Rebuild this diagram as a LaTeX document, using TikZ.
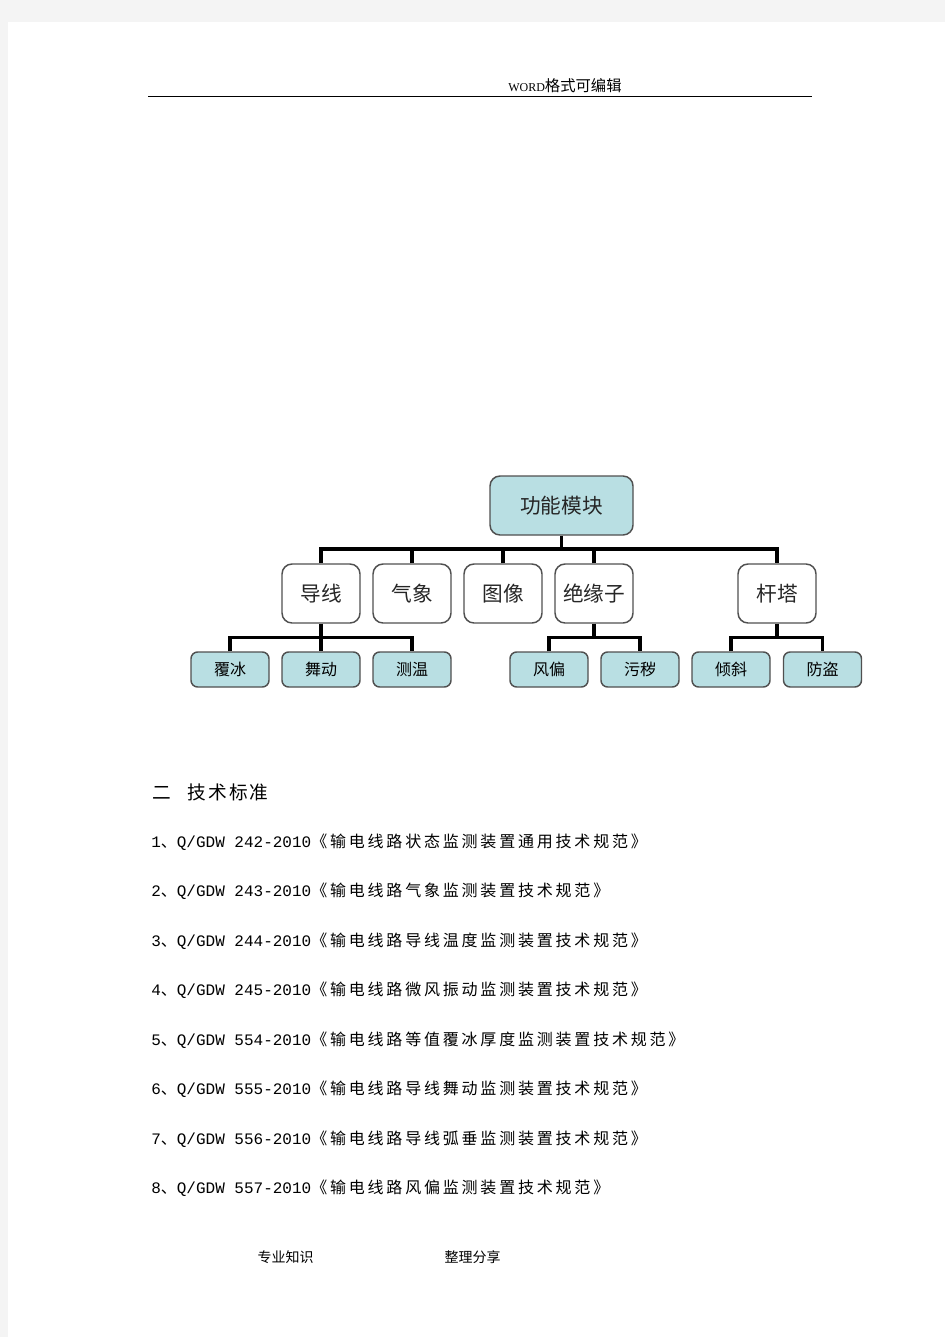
\documentclass[tikz,border=0pt]{standalone}
\usepackage{fontspec}
\setmainfont{Liberation Serif}
\newfontfamily\cjk{Noto Sans CJK SC}
\newfontfamily\cjkls[LetterSpace=17.5]{Noto Sans CJK SC}
\newfontfamily\cjkh[LetterSpace=12]{Noto Sans CJK SC}
\newfontfamily\lat{Liberation Mono}
\definecolor{pagegray}{HTML}{F4F4F4}
\definecolor{tealfill}{HTML}{B9DFE3}
\definecolor{boxborder}{HTML}{505050}
\newcommand\stdfont{\fontsize{12pt}{14pt}\selectfont}
\tikzset{
  topbox/.style={draw=boxborder, line width=1.1pt, fill=tealfill, rounded corners=7.5pt,
    minimum width=107.25pt, minimum height=44.25pt, inner sep=0pt,
    font=\cjk\fontsize{15.5pt}{18pt}\selectfont, text=black!85},
  midbox/.style={draw=boxborder, line width=1.1pt, fill=white, rounded corners=7.5pt,
    minimum width=58.5pt, minimum height=44.25pt, inner sep=0pt,
    font=\cjk\fontsize{15.5pt}{18pt}\selectfont, text=black!85},
  leafbox/.style={draw=boxborder, line width=1.1pt, fill=tealfill, rounded corners=5pt,
    minimum width=58.5pt, minimum height=26.25pt, inner sep=0pt,
    font=\cjk\fontsize{12pt}{14pt}\selectfont, text=black},
  conn/.style={line width=2.8pt, black, line join=miter},
  stdline/.style={anchor=base west, inner sep=0pt, font=\stdfont},
}
\begin{document}
\begin{tikzpicture}[x=0.75pt, y=-0.75pt]
\useasboundingbox (0,0) rectangle (945,1337);
\fill[pagegray] (0,0) rectangle (945,1337);
\fill[white] (8,22) rectangle (945,1337);

% header
\node[anchor=base west, inner sep=0pt] (hdr) at (508,92)
  {{\fontsize{9pt}{11pt}\selectfont WORD}{\cjk\fontsize{11.5pt}{13pt}\selectfont 格式可编辑}};
\draw[line width=0.9pt] (148,96.5) -- (812,96.5);

% diagram nodes
\node[topbox] (gn) at (561.5,505.5) {功能模块};
\node[midbox] (dx) at (321,593.5) {导线};
\node[midbox] (qx) at (412,593.5) {气象};
\node[midbox] (tx) at (503,593.5) {图像};
\node[midbox] (jy) at (594,593.5) {绝缘子};
\node[midbox] (gt) at (777,593.5) {杆塔};
\node[leafbox] (fb) at (230,669.5) {覆冰};
\node[leafbox] (wd) at (321,669.5) {舞动};
\node[leafbox] (cw) at (412,669.5) {测温};
\node[leafbox] (fp) at (549,669.5) {风偏};
\node[leafbox] (wh) at (640,669.5) {污秽};
\node[leafbox] (qxie) at (731,669.5) {倾斜};
\node[leafbox] (fd) at (822.5,669.5) {防盗};

\coordinate (busA) at (0,549);
\coordinate (busB) at (0,637.5);

% connectors level 1
\draw[conn] (dx.north) -- (dx.north |- busA) -- (gt.north |- busA) -- (gt.north);
\draw[conn] (gn.south) -- (gn.south |- busA);
\draw[conn] (qx.north) -- (qx.north |- busA);
\draw[conn] (tx.north) -- (tx.north |- busA);
\draw[conn] (jy.north) -- (jy.north |- busA);
% connectors level 2
\draw[conn] (fb.north) -- (fb.north |- busB) -- (cw.north |- busB) -- (cw.north);
\draw[conn] (dx.south) -- (wd.north);
\draw[conn] (fp.north) -- (fp.north |- busB) -- (wh.north |- busB) -- (wh.north);
\draw[conn] (jy.south) -- (jy.south |- busB);
\draw[conn] (qxie.north) -- (qxie.north |- busB) -- (fd.north |- busB) -- (fd.north);
\draw[conn] (gt.south) -- (gt.south |- busB);

% heading
\node[anchor=base west, inner sep=0pt, font=\cjkh\fontsize{14pt}{16pt}\selectfont] (h1) at (152,799) {二};
\node[anchor=base west, inner sep=0pt, font=\cjkh\fontsize{14pt}{16pt}\selectfont] (h2) at (187,799) {技术标准};

% standards
\node[stdline] (s1) at (151,847) {\lat 1\cjkls 、\lat Q/GDW 242-2010\cjkls 《输电线路状态监测装置通用技术规范》};
\node[stdline] (s2) at (151,896) {\lat 2\cjkls 、\lat Q/GDW 243-2010\cjkls 《输电线路气象监测装置技术规范》};
\node[stdline] (s3) at (151,946) {\lat 3\cjkls 、\lat Q/GDW 244-2010\cjkls 《输电线路导线温度监测装置技术规范》};
\node[stdline] (s4) at (151,995) {\lat 4\cjkls 、\lat Q/GDW 245-2010\cjkls 《输电线路微风振动监测装置技术规范》};
\node[stdline] (s5) at (151,1045) {\lat 5\cjkls 、\lat Q/GDW 554-2010\cjkls 《输电线路等值覆冰厚度监测装置技术规范》};
\node[stdline] (s6) at (151,1094) {\lat 6\cjkls 、\lat Q/GDW 555-2010\cjkls 《输电线路导线舞动监测装置技术规范》};
\node[stdline] (s7) at (151,1144) {\lat 7\cjkls 、\lat Q/GDW 556-2010\cjkls 《输电线路导线弧垂监测装置技术规范》};
\node[stdline] (s8) at (151,1193) {\lat 8\cjkls 、\lat Q/GDW 557-2010\cjkls 《输电线路风偏监测装置技术规范》};

% footer
\node[font=\cjk\fontsize{10.5pt}{12pt}\selectfont, inner sep=0pt] (f1) at (285.5,1257) {专业知识};
\node[font=\cjk\fontsize{10.5pt}{12pt}\selectfont, inner sep=0pt] (f2) at (472.5,1257) {整理分享};
\end{tikzpicture}
\end{document}
